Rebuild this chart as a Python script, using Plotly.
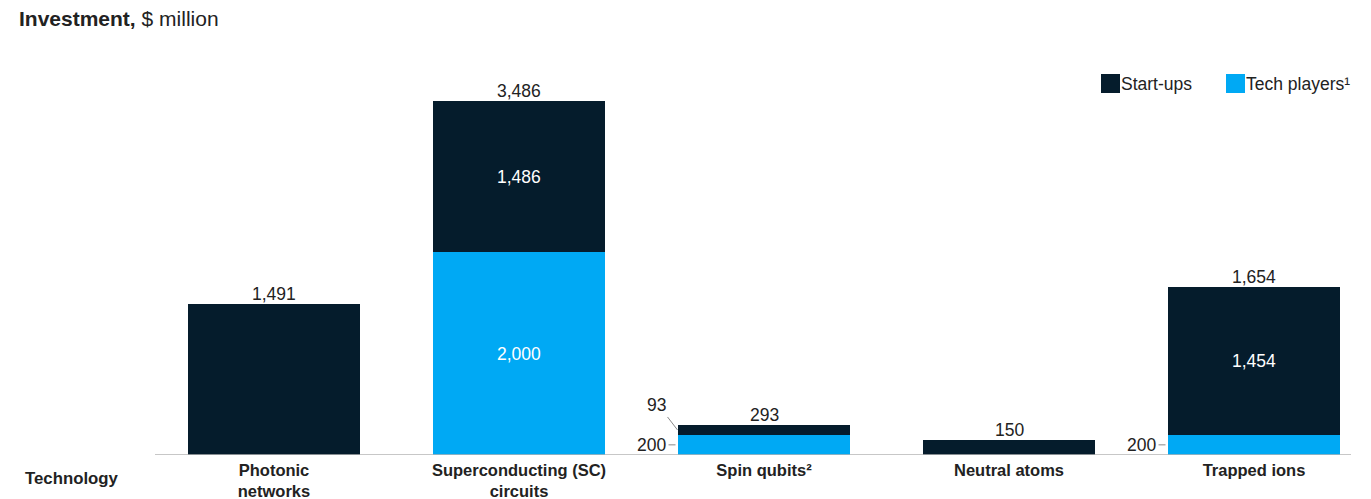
import plotly.graph_objects as go

# Investment by quantum-computing technology, $ million
categories = ["Photonic<br>networks", "Superconducting (SC)<br>circuits",
              "Spin qubits²", "Neutral atoms", "Trapped ions"]
tech_players = [0, 2000, 200, 0, 200]
start_ups = [1491, 1486, 93, 150, 1454]
totals = [1491, 3486, 293, 150, 1654]

NAVY = "#051C2C"
BLUE = "#00A9F4"
TEXT = "#222222"
FONT = "Liberation Sans, Arial, sans-serif"
VAL = 17.5

fig = go.Figure()
fig.add_trace(go.Bar(x=categories, y=tech_players, name="Tech players¹",
                     marker=dict(color=BLUE, line=dict(width=0)), width=0.706,
                     showlegend=False, hoverinfo="skip"))
fig.add_trace(go.Bar(x=categories, y=start_ups, name="Start-ups",
                     marker=dict(color=NAVY, line=dict(width=0)), width=0.706,
                     showlegend=False, hoverinfo="skip"))

annotations = []
# totals above each bar
for i, t in enumerate(totals):
    annotations.append(dict(x=i, y=t, text=f"{t:,}", showarrow=False,
                            yanchor="bottom", yshift=-2,
                            font=dict(size=VAL, color=TEXT, family=FONT)))

# labels inside tall segments
for i, (tp, su) in enumerate(zip(tech_players, start_ups)):
    if tp >= 1000:
        annotations.append(dict(x=i, y=tp / 2, text=f"{tp:,}", showarrow=False,
                                font=dict(size=VAL, color="white", family=FONT)))
    if su >= 1000 and tp > 0:
        annotations.append(dict(x=i, y=tp + su / 2, text=f"{su:,}", showarrow=False,
                                font=dict(size=VAL, color="white", family=FONT)))

# side labels for thin segments
spin, trapped = 2, 4
for i in (spin, trapped):
    annotations.append(dict(x=i - 0.353, y=tech_players[i] / 2,
                            text=f"{tech_players[i]:,}", showarrow=False,
                            xanchor="right", xshift=-10,
                            font=dict(size=VAL, color=TEXT, family=FONT)))
annotations.append(dict(x=spin - 0.353, y=tech_players[spin] + start_ups[spin] / 2,
                        text=f"{start_ups[spin]:,}", showarrow=True, arrowhead=0,
                        arrowwidth=1, arrowcolor="#888888", ax=-10, ay=-13,
                        xanchor="right", yanchor="bottom",
                        font=dict(size=VAL, color=TEXT, family=FONT)))

# axis title and chart title
annotations.append(dict(xref="paper", yref="paper", x=23 / 1371, y=-23 / 395,
                        text="<b>Technology</b>", showarrow=False,
                        xanchor="left", yanchor="middle",
                        font=dict(size=16.8, color=TEXT, family=FONT)))
annotations.append(dict(xref="paper", yref="paper", x=17 / 1371, y=1 + 41 / 395,
                        text="<b>Investment,</b> $ million", showarrow=False,
                        xanchor="left", yanchor="middle",
                        font=dict(size=21, color=TEXT, family=FONT)))

# legend
shapes = []
legend_items = [("Start-ups", NAVY, 1101), ("Tech players¹", BLUE, 1226)]
for label, color, x0 in legend_items:
    shapes.append(dict(type="rect", xref="paper", yref="paper",
                       x0=x0 / 1371, x1=(x0 + 19) / 1371,
                       y0=(455 - 93) / 395, y1=(455 - 74) / 395,
                       fillcolor=color, line=dict(width=0)))
    annotations.append(dict(xref="paper", yref="paper", x=(x0 + 18) / 1371,
                            y=(455 - 84) / 395, text=label, showarrow=False,
                            xanchor="left", yanchor="middle",
                            font=dict(size=VAL, color=TEXT, family=FONT)))

# short tick lines next to the side labels
for i in (spin, trapped):
    shapes.append(dict(type="line", xref="x", yref="y",
                       x0=i - 0.353 - 9 / 245, x1=i - 0.353 - 2 / 245,
                       y0=tech_players[i] / 2, y1=tech_players[i] / 2,
                       line=dict(color="#888888", width=1)))

# baseline
shapes.append(dict(type="line", xref="x", yref="y",
                   x0=(155 - 274) / 245, x1=(1351 - 274) / 245, y0=0, y1=0,
                   line=dict(color="#B5B5B5", width=1.5)))

fig.update_layout(
    barmode="stack",
    width=1371, height=499,
    margin=dict(l=0, r=0, t=60, b=44, autoexpand=False),
    plot_bgcolor="white", paper_bgcolor="white",
    font=dict(family=FONT, color=TEXT),
    xaxis=dict(range=[-274 / 245, (1371 - 274) / 245], showgrid=False,
               showline=False, zeroline=False, ticks="", automargin=False,
               tickfont=dict(size=16.5, color=TEXT, family=FONT),
               tickvals=list(range(len(categories))),
               ticktext=[f"<b>{c}</b>" for c in categories],
               ticklabelstandoff=3),
    yaxis=dict(range=[0, 395 / 0.1015], visible=False, automargin=False),
    annotations=annotations,
    shapes=shapes,
)

fig.write_html("out.html")
